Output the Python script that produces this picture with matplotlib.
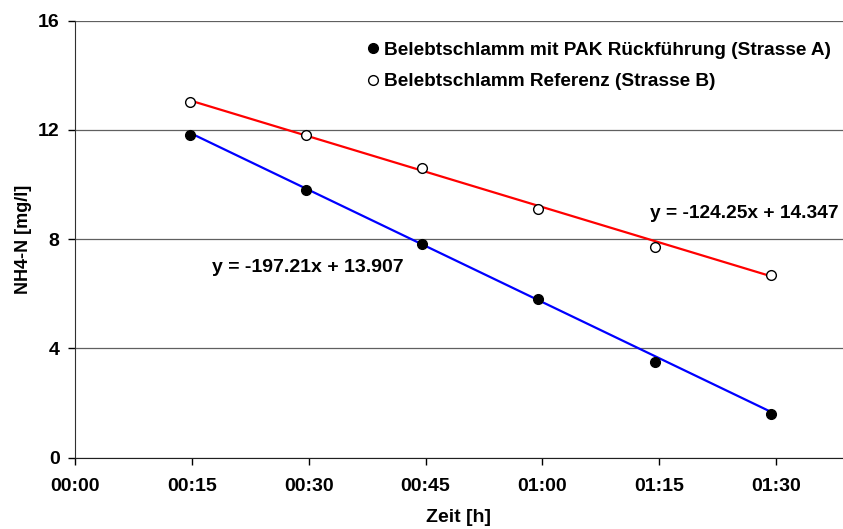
import numpy as np
import matplotlib
matplotlib.use("Agg")
import matplotlib.pyplot as plt
from matplotlib.ticker import FuncFormatter

plt.rcParams['font.family'] = ['Liberation Sans', 'DejaVu Sans']
plt.rcParams['font.weight'] = 'bold'

# Zeit in Minuten, NH4-N in mg/l
zeit_min = [14.8, 29.7, 44.6, 59.5, 74.4, 89.3]
nh4_a = [11.8, 9.8, 7.8, 5.8, 3.5, 1.6]
nh4_b = [13.0, 11.8, 10.6, 9.1, 7.7, 6.7]

# Trendlinien (x in Tagen)
fit_a = (-197.21, 13.907)
fit_b = (-124.25, 14.347)
label_a = "Belebtschlamm mit PAK Rückführung (Strasse A)"
label_b = "Belebtschlamm Referenz (Strasse B)"

fig = plt.figure(figsize=(8.43, 5.29), dpi=100)
ax = fig.add_axes([75/843, (529-457.5)/529, (843-75)/843, (457.5-20.5)/529])

x = np.array(zeit_min)
xd = x / 1440.0
ax.plot(x, fit_a[0]*xd + fit_a[1], color='#0000ff', lw=1.6, zorder=2)
ax.plot(x, fit_b[0]*xd + fit_b[1], color='#ff0000', lw=1.6, zorder=2)
ax.plot(x, nh4_a, 'o', color='black', ms=7, label=label_a, zorder=3)
ax.plot(x, nh4_b, 'o', mfc='white', mec='black', mew=1.0, ms=7, label=label_b, zorder=3)

ax.text(17.6, 6.95, "y = -197.21x + 13.907", fontsize=14, fontweight='bold', va='center')
ax.text(73.8, 8.95, "y = -124.25x + 14.347", fontsize=13.8, fontweight='bold', va='center')

ax.set_xlim(0, 98.6)
ax.set_ylim(0, 16)
ax.set_xticks(np.arange(0, 91, 15))
ax.set_yticks([0, 4, 8, 12, 16])
ax.xaxis.set_major_formatter(FuncFormatter(lambda v, p: "%02d:%02d" % (int(v)//60, int(v) % 60)))
ax.tick_params(direction='out', length=5, width=1, labelsize=14, colors='black')
ax.tick_params(axis='x', pad=10)
ax.tick_params(axis='y', pad=6)
for lab in ax.get_xticklabels() + ax.get_yticklabels():
    lab.set_fontweight('bold')

ax.grid(axis='y', color='#606060', lw=0.9)
ax.set_axisbelow(True)
ax.spines['top'].set_visible(False)
ax.spines['right'].set_visible(False)
ax.spines['left'].set_color('#303030')
ax.spines['bottom'].set_color('#202020')

ax.set_xlabel("Zeit [h]", fontsize=14, fontweight='bold', labelpad=10)
ax.set_ylabel("NH4-N [mg/l]", fontsize=13, fontweight='bold', labelpad=4)

ax.legend(loc='upper left', bbox_to_anchor=(360/843, 1-32/529), bbox_transform=fig.transFigure,
          frameon=False, handlelength=0.4, handletextpad=0.35,
          labelspacing=0.75, borderpad=0, prop={'weight': 'bold', 'size': 13.7})

fig.savefig("out.png", dpi=100)
